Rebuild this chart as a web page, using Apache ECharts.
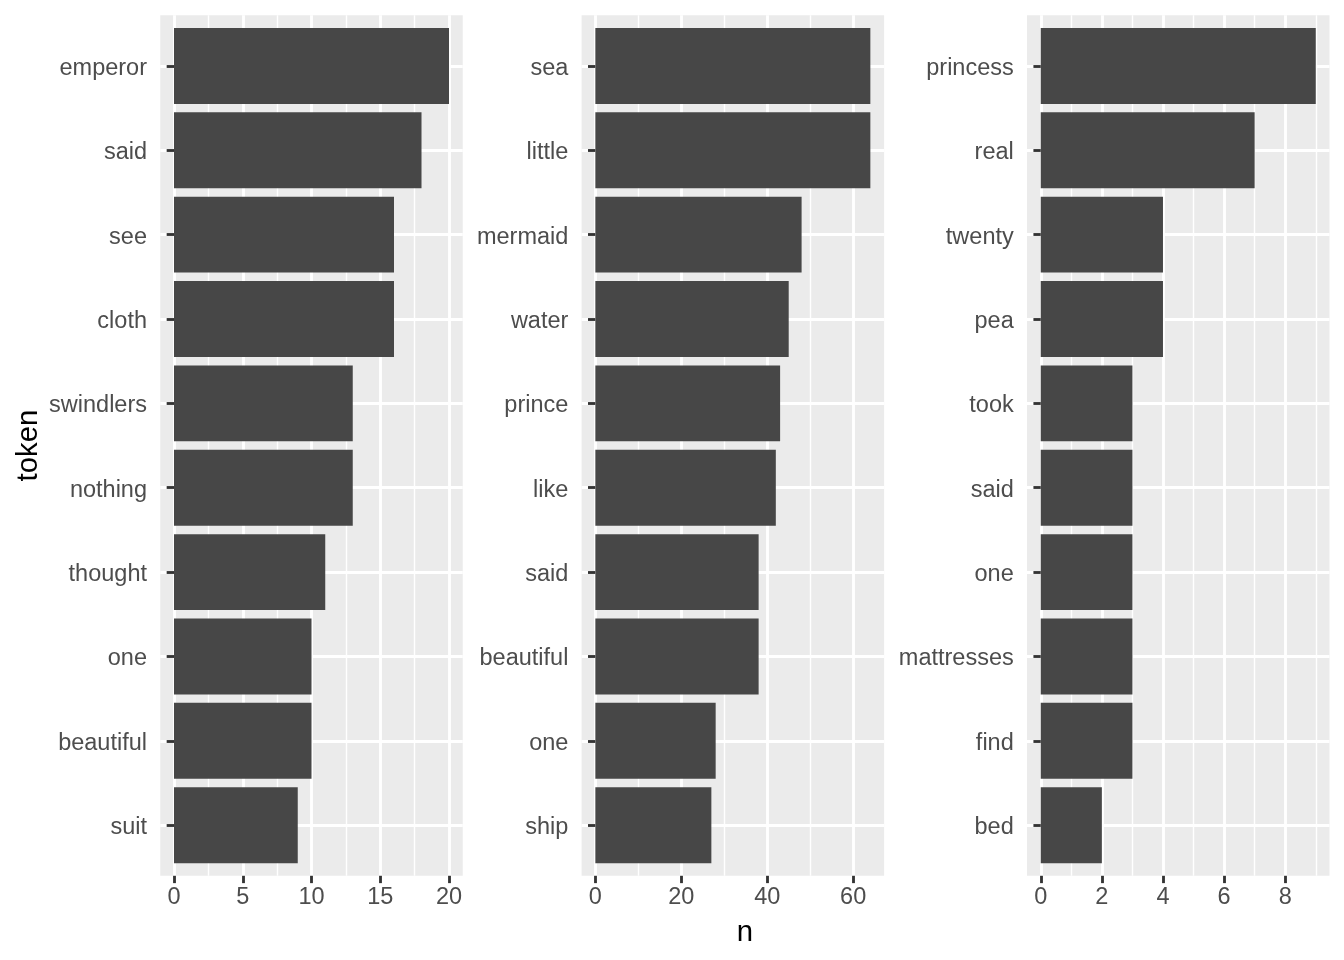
<!DOCTYPE html>
<html>
<head>
<meta charset="utf-8">
<script src="https://cdn.jsdelivr.net/npm/echarts@6/dist/echarts.min.js"></script>
<style>
  html, body { margin: 0; padding: 0; background: #ffffff; }
  #chart { width: 1344px; height: 960px; }
</style>
</head>
<body>
<div id="chart"></div>
<script>
// ---- data ----
const tokens1 = ['emperor', 'said', 'see', 'cloth', 'swindlers', 'nothing', 'thought', 'one', 'beautiful', 'suit'];
const values1 = [20, 18, 16, 16, 13, 13, 11, 10, 10, 9];

const tokens2 = ['sea', 'little', 'mermaid', 'water', 'prince', 'like', 'said', 'beautiful', 'one', 'ship'];
const values2 = [64, 64, 48, 45, 43, 42, 38, 38, 28, 27];

const tokens3 = ['princess', 'real', 'twenty', 'pea', 'took', 'said', 'one', 'mattresses', 'find', 'bed'];
const values3 = [9, 7, 4, 4, 3, 3, 3, 3, 3, 2];

const xTicks1 = [0, 5, 10, 15, 20];
const xMinor1 = [2.5, 7.5, 12.5, 17.5];
const xTicks2 = [0, 20, 40, 60];
const xMinor2 = [10, 30, 50];
const xTicks3 = [0, 2, 4, 6, 8];
const xMinor3 = [1, 3, 5, 7, 9];

const xTitle = 'n';
const yTitle = 'token';

// ---- layout / style ----
const FONT = '"Liberation Sans", Arial, Helvetica, sans-serif';
const LABEL_SIZE = 23.5;
const TITLE_SIZE = 29.3;
const PANEL_TOP = 15.3;
const PANEL_H = 860.5;
const PANEL_W = 302.5;
const panelLefts = [160.25, 581.6, 1027];
const MAJOR_W = 2.85;
const MINOR_W = 1.42;
const TICK_LEN = 7.33;
const BAR_FILL = '#474747';

const panels = [
  { tokens: tokens1, values: values1, ticks: xTicks1, minor: xMinor1 },
  { tokens: tokens2, values: values2, ticks: xTicks2, minor: xMinor2 },
  { tokens: tokens3, values: values3, ticks: xTicks3, minor: xMinor3 }
];

// ggplot-like expansion: continuous 5%, discrete 0.6
panels.forEach(p => {
  const mx = Math.max(...p.values);
  p.xmin = -0.05 * mx;
  p.xmax = mx * 1.05;
  p.pos = p.tokens.map((_, i) => i + 1);
  p.ymin = 1 - 0.6;
  p.ymax = p.tokens.length + 0.6;
});

const grids = [], xAxes = [], yAxes = [], series = [];

panels.forEach((p, i) => {
  grids.push({
    left: panelLefts[i], top: PANEL_TOP, width: PANEL_W, height: PANEL_H,
    show: true, backgroundColor: '#EBEBEB', borderWidth: 0,
    containLabel: false, outerBoundsMode: 'none'
  });
  // major x axis
  xAxes.push({
    gridIndex: i, type: 'value', min: p.xmin, max: p.xmax, position: 'bottom',
    axisLine: { show: false },
    axisTick: { show: true, customValues: p.ticks, length: TICK_LEN,
      lineStyle: { color: '#333333', width: MAJOR_W } },
    axisLabel: { show: true, customValues: p.ticks, margin: 10,
      color: '#4D4D4D', fontSize: LABEL_SIZE, fontFamily: FONT,
      showMinLabel: true, showMaxLabel: true, hideOverlap: false },
    splitLine: { show: true, lineStyle: { color: '#FFFFFF', width: MAJOR_W } },
    minorTick: { show: false }, minorSplitLine: { show: false }
  });
  // minor x axis (grid lines only)
  xAxes.push({
    gridIndex: i, type: 'value', min: p.xmin, max: p.xmax, position: 'top',
    axisLine: { show: false },
    axisTick: { show: false, customValues: p.minor },
    axisLabel: { show: false, customValues: p.minor },
    splitLine: { show: true, lineStyle: { color: '#FFFFFF', width: MINOR_W } }
  });
  yAxes.push({
    gridIndex: i, type: 'value', min: p.ymin, max: p.ymax, inverse: true,
    axisLine: { show: false },
    axisTick: { show: true, customValues: p.pos, length: TICK_LEN,
      lineStyle: { color: '#333333', width: MAJOR_W } },
    axisLabel: { show: true, customValues: p.pos, margin: 13.25,
      color: '#4D4D4D', fontSize: LABEL_SIZE, fontFamily: FONT,
      hideOverlap: false,
      formatter: (v) => '{t|' + p.tokens[Math.round(v) - 1] + '}',
      rich: { t: { fontSize: LABEL_SIZE, fontFamily: FONT, color: '#4D4D4D',
        padding: [5, 0, 0, 0] } } },
    splitLine: { show: true, lineStyle: { color: '#FFFFFF', width: MAJOR_W } }
  });
  series.push({
    type: 'custom',
    xAxisIndex: i * 2,
    yAxisIndex: i,
    clip: false,
    data: p.values.map((v, k) => [v, p.pos[k]]),
    renderItem: (params, api) => {
      const x = api.value(0);
      const y = api.value(1);
      const start = api.coord([0, y]);
      const end = api.coord([x, y]);
      const h = api.size([0, 0.9])[1];
      return {
        type: 'rect',
        shape: { x: start[0], y: start[1] - h / 2, width: end[0] - start[0], height: h },
        style: { fill: BAR_FILL }
      };
    }
  });
});

const chart = echarts.init(document.getElementById('chart'), null, { renderer: 'canvas' });
chart.setOption({
  animation: false,
  backgroundColor: '#FFFFFF',
  grid: grids,
  xAxis: xAxes,
  yAxis: yAxes,
  series: series,
  graphic: [
    {
      type: 'text', x: 28.9, y: PANEL_TOP + PANEL_H / 2, rotation: Math.PI / 2,
      style: { text: yTitle, fill: '#000000', fontSize: TITLE_SIZE, fontFamily: FONT,
        align: 'center', verticalAlign: 'middle' }
    },
    {
      type: 'text', x: (panelLefts[0] + panelLefts[2] + PANEL_W) / 2, y: 932.5,
      style: { text: xTitle, fill: '#000000', fontSize: TITLE_SIZE, fontFamily: FONT,
        align: 'center', verticalAlign: 'middle' }
    }
  ]
});
</script>
</body>
</html>
